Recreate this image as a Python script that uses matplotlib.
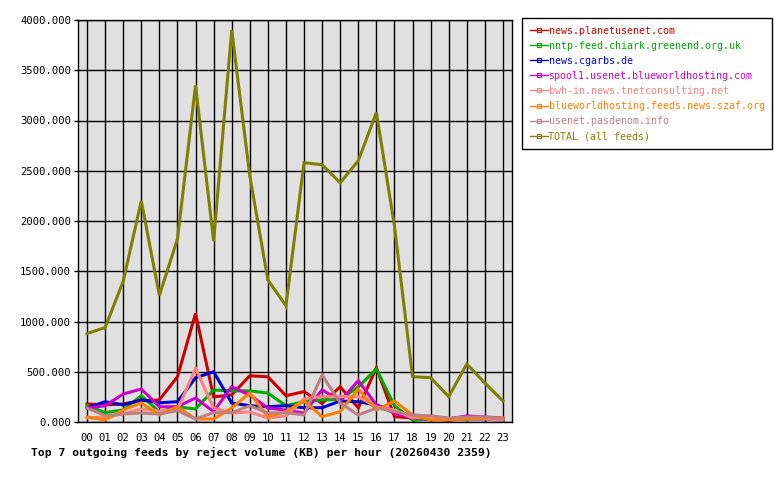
import matplotlib
matplotlib.use("Agg")
import matplotlib.pyplot as plt

HOURS = [f"{h:02d}" for h in range(24)]

FEEDS = [
    "news.planetusenet.com",
    "nntp-feed.chiark.greenend.org.uk",
    "news.cgarbs.de",
    "spool1.usenet.blueworldhosting.com",
    "bwh-in.news.tnetconsulting.net",
    "blueworldhosting.feeds.news.szaf.org",
    "usenet.pasdenom.info",
    "TOTAL (all feeds)",
]
COLORS = ["#cc0000", "#00aa00", "#0000cc", "#cc00cc", "#ff8080", "#ff8000", "#c08080", "#808000"]

planetusenet = [180, 170, 180, 210, 220, 450, 1080, 250, 270, 460, 450, 262,
                302, 185, 350, 140, 540, 53, 40, 30, 20, 40, 40, 30]
chiark = [165, 93, 120, 262, 100, 150, 130, 318, 310, 310, 288, 162,
          202, 219, 225, 350, 527, 162, 20, 30, 30, 30, 40, 30]
cgarbs = [140, 202, 170, 221, 191, 202, 440, 500, 189, 162, 152, 162,
          142, 142, 209, 202, 169, 110, 40, 30, 20, 30, 30, 20]
spool1 = [139, 162, 278, 328, 152, 152, 239, 103, 351, 268, 139, 119,
          89, 320, 209, 411, 169, 89, 40, 60, 30, 60, 50, 40]
tnetconsulting = [40, 50, 80, 130, 110, 120, 534, 139, 90, 100, 40, 60,
                  230, 252, 252, 252, 150, 120, 40, 40, 30, 30, 30, 20]
szaf = [50, 20, 120, 189, 70, 152, 30, 30, 139, 288, 53, 103,
        209, 53, 103, 328, 119, 209, 70, 20, 20, 30, 40, 40]
pasdenom = [139, 63, 80, 89, 80, 113, 30, 93, 93, 162, 89, 93,
            70, 468, 189, 70, 140, 103, 70, 60, 40, 50, 50, 30]
total = [880, 940, 1400, 2200, 1260, 1820, 3350, 1800, 3900, 2450, 1413, 1157,
         2580, 2560, 2380, 2600, 3080, 1950, 451, 441, 252, 577, 388, 209]

SERIES = [planetusenet, chiark, cgarbs, spool1, tnetconsulting, szaf, pasdenom, total]

plt.rcParams["font.family"] = ["DejaVu Sans Mono"]

fig = plt.figure(figsize=(7.8, 4.8), dpi=100)
ax = fig.add_axes([78 / 780, 58 / 480, 434 / 780, 402 / 480])
ax.set_facecolor("#e0e0e0")

x = list(range(len(HOURS)))
for values, color, name in zip(SERIES, COLORS, FEEDS):
    ax.plot(x, values, color=color, lw=2.2, solid_joinstyle="miter", label=name)

ax.set_xlim(-0.5, 23.5)
ax.set_ylim(0, 4000)
ax.set_xticks(x)
ax.set_xticklabels(HOURS, fontsize=7.6)
ax.set_yticks(range(0, 4001, 500))
ax.set_yticklabels([f"{v}.000" for v in range(0, 4001, 500)], fontsize=7.6)
ax.tick_params(axis="x", length=0, pad=8)
ax.tick_params(axis="y", length=3, width=1, pad=2)
ax.grid(True, color="black", lw=1)
ax.set_axisbelow(True)
for s in ax.spines.values():
    s.set_color("black")
    s.set_linewidth(1)

fig.text(31 / 780, 1 - 452 / 480,
         "Top 7 outgoing feeds by reject volume (KB) per hour (20260430 2359)",
         fontsize=8.2, fontweight="bold", va="center", ha="left")

handles = []
for color, name in zip(COLORS, FEEDS):
    h, = ax.plot([], [], color=color, lw=1, marker="s", markersize=3,
                 markerfacecolor="none", markeredgewidth=0.8, label=name)
    handles.append(h)
leg = fig.legend(handles=handles, labels=FEEDS, loc="upper left",
                 bbox_to_anchor=(522 / 780, 1 - 18 / 480), frameon=True,
                 fancybox=False, edgecolor="black", framealpha=1,
                 fontsize=7.2, handlelength=1.8, handletextpad=0.1,
                 labelspacing=0.51, borderpad=0.75, borderaxespad=0,
                 labelcolor=COLORS)
leg.get_frame().set_linewidth(1)

fig.savefig("out.png", dpi=100)
